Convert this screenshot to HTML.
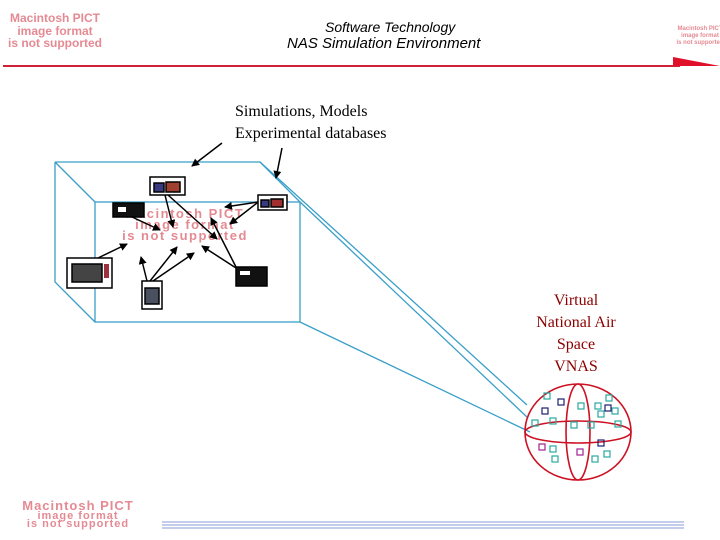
<!DOCTYPE html>
<html><head><style>
body{margin:0;width:720px;height:540px;background:#fff;overflow:hidden;position:relative;font-family:"Liberation Sans",sans-serif}
.t{position:absolute;white-space:nowrap}
</style></head><body>
<svg width="720" height="540" style="position:absolute;left:0;top:0">
<defs><marker id="a" markerWidth="8" markerHeight="8" refX="7" refY="4" orient="auto" markerUnits="userSpaceOnUse"><path d="M0,0L8,4L0,8z" fill="#000"/></marker></defs>
<line x1="3" y1="66" x2="680" y2="66" stroke="#d0203a" stroke-width="2"/>
<path d="M673,57L720,66L673,66z" fill="#e0102a"/>
<g stroke="#3a9fc8" stroke-width="1.3" fill="none">
<path d="M55,162H260L300,202M55,162V282L95,322M55,162L95,202"/>
<rect x="95" y="202" width="205" height="120"/>
<path d="M260,162L527,405M300,202L528,418M300,322L530,432"/>
</g>
<g fill="#e58a93" font-weight="bold" font-size="13" text-anchor="middle" letter-spacing="1.5">
<text x="185" y="218">Macintosh PICT</text><text x="185" y="229">image format</text><text x="185" y="240">is not supported</text>
</g>
<g stroke="#000" stroke-width="1.5" marker-end="url(#a)">
<line x1="222" y1="143" x2="192" y2="166"/>
<line x1="282" y1="148" x2="276" y2="178"/>
<line x1="165" y1="195" x2="173" y2="227"/>
<line x1="168" y1="195" x2="217" y2="239"/>
<line x1="258" y1="202" x2="225" y2="207"/>
<line x1="257" y1="203" x2="230" y2="224"/>
<line x1="132" y1="217" x2="160" y2="230"/>
<line x1="98" y1="258" x2="127" y2="244"/>
<line x1="147" y1="281" x2="141" y2="257"/>
<line x1="150" y1="281" x2="177" y2="247"/>
<line x1="153" y1="281" x2="194" y2="253"/>
<line x1="236" y1="268" x2="202" y2="246"/>
<line x1="236" y1="267" x2="211" y2="218"/>
</g>
<g stroke="#000" stroke-width="1.5">
<rect x="150" y="177" width="35" height="18" fill="#fff"/><rect x="154" y="183" width="10" height="9" fill="#3a3a80"/><rect x="166" y="182" width="14" height="10" fill="#a04030"/>
<rect x="113" y="203" width="31" height="14" fill="#111"/><rect x="118" y="207" width="8" height="5" fill="#fff" stroke="none"/>
<rect x="258" y="195" width="29" height="15" fill="#fff"/><rect x="261" y="200" width="8" height="7" fill="#3a3a80"/><rect x="271" y="199" width="12" height="8" fill="#a03030"/>
<rect x="67" y="258" width="45" height="30" fill="#fff"/><rect x="72" y="264" width="30" height="18" fill="#444"/><rect x="104" y="264" width="5" height="14" fill="#a03040" stroke="none"/>
<rect x="142" y="281" width="20" height="28" fill="#fff"/><rect x="145" y="288" width="14" height="16" fill="#4a5060"/>
<rect x="236" y="267" width="31" height="19" fill="#111"/><rect x="240" y="271" width="10" height="4" fill="#fff" stroke="none"/>
</g>
<g stroke="#cc1122" stroke-width="1.6" fill="none">
<ellipse cx="578" cy="432" rx="53" ry="48"/>
<ellipse cx="578" cy="432" rx="53" ry="11"/>
<ellipse cx="578" cy="432" rx="12" ry="48"/>
</g>
<g fill="none" stroke="#2aa8a0" stroke-width="1.2">
<rect x="544" y="393" width="6" height="6"/><rect x="578" y="403" width="6" height="6"/><rect x="606" y="395" width="6" height="6"/><rect x="595" y="403" width="6" height="6"/><rect x="612" y="408" width="6" height="6"/><rect x="550" y="418" width="6" height="6"/><rect x="571" y="422" width="6" height="6"/><rect x="598" y="411" width="6" height="6"/><rect x="532" y="420" width="6" height="6"/><rect x="615" y="421" width="6" height="6"/><rect x="550" y="446" width="6" height="6"/><rect x="552" y="456" width="6" height="6"/><rect x="592" y="456" width="6" height="6"/><rect x="604" y="451" width="6" height="6"/><rect x="588" y="422" width="6" height="6"/>
</g>
<g fill="none" stroke="#1a2070" stroke-width="1.2"><rect x="542" y="408" width="6" height="6"/><rect x="558" y="399" width="6" height="6"/><rect x="605" y="405" width="6" height="6"/><rect x="598" y="440" width="6" height="6"/></g>
<g fill="none" stroke="#a02090" stroke-width="1.2"><rect x="539" y="444" width="6" height="6"/><rect x="577" y="449" width="6" height="6"/></g>
<g fill="#e58a93" font-weight="bold" text-anchor="middle">
<text x="55" y="22" font-size="12">Macintosh PICT</text><text x="55" y="35" font-size="12">image format</text><text x="55" y="47" font-size="12">is not supported</text>
<text x="78" y="510" font-size="13" letter-spacing="1">Macintosh PICT</text><text x="78" y="519" font-size="11" letter-spacing="1">image format</text><text x="78" y="527" font-size="11" letter-spacing="1">is not supported</text>
<text x="700" y="30" font-size="6">Macintosh PICT</text><text x="700" y="37" font-size="6">image format</text><text x="700" y="44" font-size="6">is not supported</text>
</g>
<g stroke="#8898d8" stroke-width="1"><line x1="162" y1="522" x2="684" y2="522"/><line x1="162" y1="525" x2="684" y2="525"/><line x1="162" y1="528" x2="684" y2="528"/></g>
</svg>
<div class="t" style="left:325px;top:19px;font-size:14px;font-style:italic">Software Technology</div>
<div class="t" style="left:287px;top:35px;font-size:15px;font-style:italic">NAS Simulation Environment</div>
<div class="t" style="left:235px;top:101px;font-family:'Liberation Serif',serif;font-size:16px;line-height:22px">Simulations, Models<br>Experimental databases</div>
<div class="t" style="left:521px;top:290px;width:110px;text-align:center;font-family:'Liberation Serif',serif;font-size:16px;line-height:22px;color:#8b0000">Virtual<br>National Air<br>Space<br>VNAS</div>
</body></html>
